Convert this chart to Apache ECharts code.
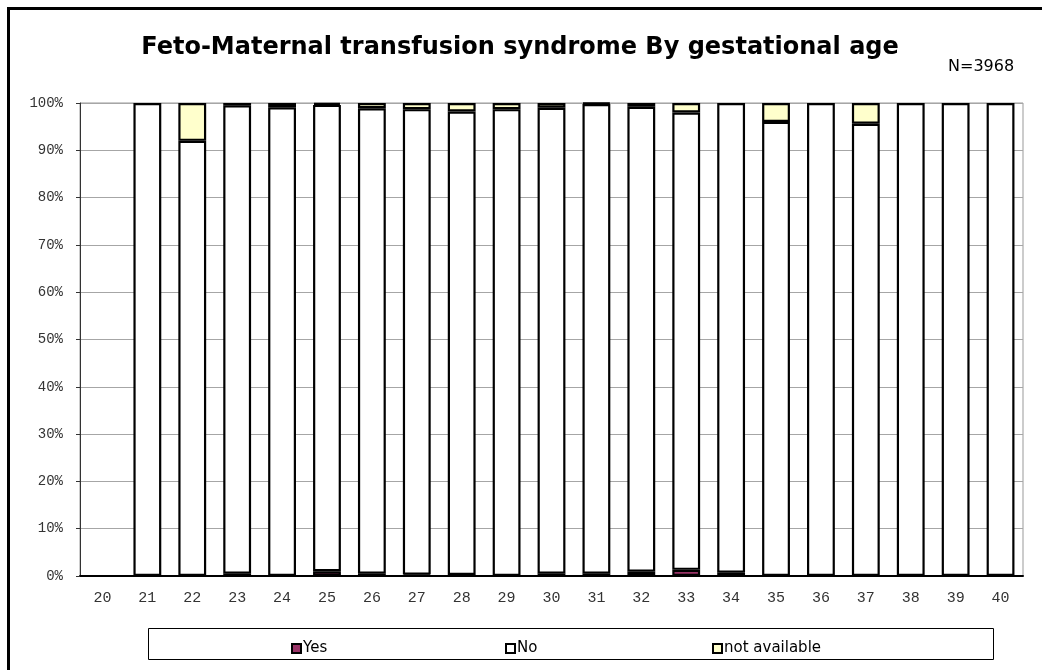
<!DOCTYPE html>
<html>
<head>
<meta charset="utf-8">
<title>Feto-Maternal transfusion syndrome By gestational age</title>
<script src="https://cdn.jsdelivr.net/npm/echarts@6/dist/echarts.min.js"></script>
<style>
  html, body { margin: 0; padding: 0; background: #fff; }
  #chart { width: 1042px; height: 670px; }
</style>
</head>
<body>
<div id="chart"></div>
<script>
// gestational age (weeks)
const weeks = ['20', '21', '22', '23', '24', '25', '26', '27', '28', '29', '30',
               '31', '32', '33', '34', '35', '36', '37', '38', '39', '40']
// share of cases per week, in %
const yesPct = [0, 0, 0, 0.5, 0, 1.0, 0.5, 0.3, 0.2, 0, 0.5,
                0.5, 0.9, 1.3, 0.7, 0, 0, 0, 0, 0, 0]
const noPct = [0, 100, 92.0, 99.0, 99.1, 98.6, 98.4, 98.4, 98.0, 98.7, 98.5,
               99.3, 98.3, 96.7, 99.3, 96.0, 100, 95.6, 100, 100, 100]
const naPct = [0, 0, 8.0, 0.5, 0.9, 0.4, 1.1, 1.3, 1.8, 1.3, 1.0,
               0.2, 0.8, 2.0, 0, 4.0, 0, 4.4, 0, 0, 0]
const yTicks = [0, 10, 20, 30, 40, 50, 60, 70, 80, 90, 100]

const monoFont = '"Liberation Mono", "DejaVu Sans Mono", monospace'
const sansFont = '"DejaVu Sans", sans-serif'

// zero segments are left out so they leave no border line
const clean = arr => arr.map(v => (v > 0 ? v : '-'))

const chart = echarts.init(document.getElementById('chart'), null, { renderer: 'canvas' })

const barStyle = color => ({ color: color, borderColor: '#000', borderWidth: 2.2 })

const option = {
  backgroundColor: '#fff',
  animation: false,
  title: [
    {
      text: 'Feto-Maternal transfusion syndrome By gestational age',
      left: 515, top: 31, textAlign: 'center',
      textStyle: { fontFamily: sansFont, fontWeight: 'bold', fontSize: 24, color: '#000' }
    },
    {
      text: 'N=3968',
      left: 943, top: 54,
      textStyle: { fontFamily: sansFont, fontWeight: 'normal', fontSize: 16, color: '#000' }
    }
  ],
  legend: [
    { data: ['Yes'], left: 286, top: 636 },
    { data: ['No'], left: 500, top: 636 },
    { data: ['not available'], left: 707, top: 636 }
  ].map(l => Object.assign(l, {
    icon: 'rect', itemWidth: 9, itemHeight: 9, itemGap: 4,
    itemStyle: { borderColor: '#000', borderWidth: 2 },
    textStyle: { fontFamily: sansFont, fontSize: 15, color: '#000', padding: [0, 0, 0, -3] }
  })),
  grid: { left: 80, right: 19, top: 103, bottom: 94, show: true, borderColor: '#999', borderWidth: 1, backgroundColor: '#fff' },
  xAxis: {
    type: 'category',
    data: weeks,
    axisLine: { lineStyle: { color: '#000', width: 2 } },
    axisTick: { inside: true, length: 4, lineStyle: { color: '#333' } },
    axisLabel: { fontFamily: monoFont, fontSize: 15, color: '#333', margin: 15 }
  },
  yAxis: {
    type: 'value',
    min: 0, max: 100, interval: 10,
    axisLine: { show: true, lineStyle: { color: '#333', width: 1 } },
    axisTick: { show: true, length: 4, lineStyle: { color: '#333' } },
    axisLabel: { fontFamily: monoFont, fontSize: 14, color: '#333', margin: 17,
      formatter: v => (yTicks.includes(v) ? v + '%' : '') },
    splitLine: { lineStyle: { color: '#a6a6a6', width: 1 } }
  },
  series: [
    { name: 'Yes', type: 'bar', stack: 'fmt', barCategoryGap: '38%', itemStyle: barStyle('#993366'), data: clean(yesPct) },
    { name: 'No', type: 'bar', stack: 'fmt', itemStyle: barStyle('#ffffff'), data: clean(noPct) },
    { name: 'not available', type: 'bar', stack: 'fmt', itemStyle: barStyle('#ffffcc'), data: clean(naPct) }
  ],
  graphic: [
    // outer chart frame (runs off the right and bottom edges)
    { type: 'rect', shape: { x: 8.5, y: 8.5, width: 1200, height: 800 },
      style: { fill: 'none', stroke: '#000', lineWidth: 3 }, silent: true },
    // legend box
    { type: 'rect', shape: { x: 148.5, y: 628.5, width: 845, height: 31 },
      style: { fill: 'none', stroke: '#000', lineWidth: 1 }, silent: true }
  ]
}

chart.setOption(option)
window.addEventListener('resize', () => chart.resize())
</script>
</body>
</html>
